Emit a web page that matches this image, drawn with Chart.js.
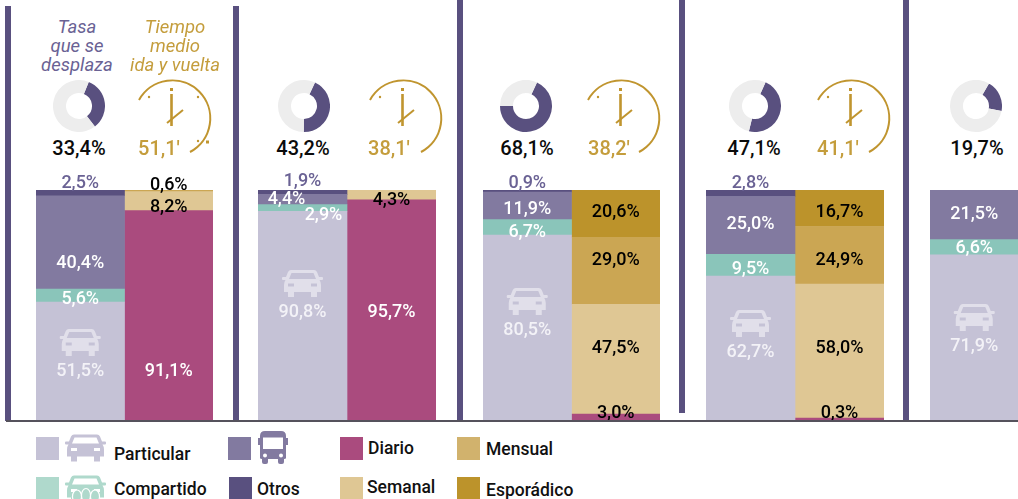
<!DOCTYPE html>
<html lang="es">
<head>
<meta charset="utf-8">
<title>Movilidad</title>
<script src="https://cdn.jsdelivr.net/npm/chart.js@4/dist/chart.umd.min.js"></script>
<style>
  html, body { margin: 0; background: #fff; }
  #page { position: relative; width: 1018px; height: 499px; overflow: hidden; font-family: Roboto, sans-serif; }
  #page > * { position: absolute; }
  .rule { background: #59507f; width: 6px; }
  .head { font-style: italic; font-weight: 400; font-size: 18.5px; line-height: 19px; text-align: center; width: 120px; top: 18px; }
  .big { font-size: 20px; font-weight: 500; top: 136px; width: 80px; text-align: center; line-height: 24px; }
  .swatch { width: 23px; height: 23px; }
  .leg { font-size: 17.5px; font-weight: 500; color: #111; line-height: 20px; white-space: nowrap; }
</style>
</head>
<body>
<div id="page"></div>
<script>
// ---------- Data ----------
const barNames = ['Modo', 'Frecuencia'];
const particular = [51.5, null, 90.8, null, 80.5, null, 62.7, null, 71.9, null];
const compartido = [5.6, null, 2.9, null, 6.7, null, 9.5, null, 6.6, null];
const autobus = [40.4, null, 4.4, null, 11.9, null, 25.0, null, 21.5, null];
const otros = [2.5, null, 1.9, null, 0.9, null, 2.8, null, null, null];
const diario = [null, 91.1, null, 95.7, null, 3.0, null, 0.3, null, null];
const semanal = [null, 8.2, null, 4.3, null, 47.5, null, 58.0, null, null];
const mensual = [null, 0.6, null, null, null, 29.0, null, 24.9, null, null];
const esporadico = [null, null, null, null, null, 20.6, null, 16.7, null, null];
const tasa = [33.4, 43.2, 68.1, 47.1, 19.7];
const tiempo = [51.1, 38.1, 38.2, 41.1, null];

// ---------- Layout ----------
const PAGE_TOP = 170;
const panelLeft = [36, 258, 483, 706, 930];
const panelWidth = [177, 178, 177, 178, 177];
const donutX = [79, 303.5, 526, 754.5, 975.5];
const donutTurn = [22, 25, 25, 24, 30];
const clockX = [171, 402, 620, 850];
const bigX = [79, 303, 527, 754, 977];
const timeX = [159, 389, 609, 838];
const rules = [[5, 6, 415], [233, 6, 415], [457, 0, 421], [679, 0, 413], [903, 0, 421]];

// label centre heights, one per bar, same order as the series
const labelY = {
  particular: [370, 0, 311, 0, 329, 0, 351, 0, 345, 0],
  compartido: [298, 0, 214, 0, 231, 0, 268, 0, 247, 0],
  autobus: [262, 0, 198, 0, 208, 0, 223, 0, 213, 0],
  otros: [182, 0, 180, 0, 182, 0, 182, 0, 0, 0],
  diario: [0, 370, 0, 311, 0, 412, 0, 412, 0, 0],
  semanal: [0, 206, 0, 199, 0, 347, 0, 347, 0, 0],
  mensual: [0, 184, 0, 0, 0, 259, 0, 259, 0, 0],
  esporadico: [0, 0, 0, 0, 0, 211, 0, 211, 0, 0]
};
const labelShiftX = { autobus: { 2: -16 }, compartido: { 2: 21 } };

const seriesList = [
  { key: 'particular', values: particular, color: '#c5c2d6', text: '#f3f2f7' },
  { key: 'compartido', values: compartido, color: '#8ac5ba', text: '#ffffff' },
  { key: 'autobus', values: autobus, color: '#827aa0', text: '#ffffff' },
  { key: 'otros', values: otros, color: '#59507f', text: '#6a6294' },
  { key: 'diario', values: diario, color: '#aa4b7e', text: '#ffffff', minBar: 3 },
  { key: 'semanal', values: semanal, color: '#dfc794', text: '#000000' },
  { key: 'mensual', values: mensual, color: '#cba653', text: '#000000' },
  { key: 'esporadico', values: esporadico, color: '#bc932b', text: '#000000' }
];
// a few labels do not follow their series colour
const blackLabels = { diario: [5, 7] };

// ---------- Icons ----------
const CAR_PATH = 'M9 0H32Q34 0 35 2L37 7H40Q41 7 41 8V9Q41 10 40 10H37.5Q39 12 39 15V22H35V27H29V22H12V27H6V22H2V15Q2 12 3.5 10H1Q0 10 0 9V8Q0 7 1 7H4L6 2Q7 0 9 0ZM9.5 3H31.5L34 9H7ZM6 13.5H12V16.5H6ZM29 13.5H35V16.5H29Z';
const BUS_PATH = 'M7 0H23Q28 0 28 5V7H30V14H28V27Q28 28 26 28V31Q26 33 24 33H22Q20 33 20 31V28H10V31Q10 33 8 33H6Q4 33 4 31V28Q2 28 2 27V14H0V7H2V5Q2 0 7 0ZM5 6.5V18H25V6.5ZM7 22.5A2 2 0 1 0 7 26.5A2 2 0 1 0 7 22.5ZM23 22.5A2 2 0 1 0 23 26.5A2 2 0 1 0 23 22.5Z';

const page = document.getElementById('page');

function place(tag, cls, style, html) {
  const el = document.createElement(tag);
  if (cls) el.className = cls;
  Object.assign(el.style, style);
  if (html) el.innerHTML = html;
  page.appendChild(el);
  return el;
}

function comma(v) {
  return v.toFixed(1).replace('.', ',');
}

// ---------- Bars ----------
const barLabels = {
  id: 'barLabels',
  afterDatasetsDraw(chart, args, opts) {
    const ctx = chart.ctx;
    ctx.save();
    ctx.font = '500 18px Roboto, sans-serif';
    ctx.textAlign = 'center';
    ctx.textBaseline = 'middle';
    chart.data.datasets.forEach((ds, d) => {
      const meta = chart.getDatasetMeta(d);
      ds.data.forEach((v, i) => {
        if (v === null) return;
        const barIndex = opts.panel * 2 + i;
        const y = labelY[ds.key][barIndex] - PAGE_TOP;
        const x = meta.data[i].x;
        if (ds.key === 'particular') {
          ctx.save();
          ctx.translate(x - 20.5, y - 41);
          ctx.fillStyle = '#e1dfea';
          ctx.fill(new Path2D(CAR_PATH), 'evenodd');
          ctx.restore();
        }
        const black = (blackLabels[ds.key] || []).includes(barIndex);
        ctx.fillStyle = black ? '#000000' : ds.textColor;
        const dx = (labelShiftX[ds.key] || {})[barIndex] || 0;
        // +1: Roboto digits sit a little above the middle baseline
        ctx.fillText(comma(v) + '%', x + dx, y + 1);
      });
    });
    ctx.restore();
  }
};

panelLeft.forEach((left, p) => {
  const canvas = place('canvas', '', { left: left + 'px', top: PAGE_TOP + 'px' });
  canvas.width = panelWidth[p];
  canvas.height = 421 - PAGE_TOP;
  new Chart(canvas, {
    type: 'bar',
    data: {
      labels: barNames,
      datasets: seriesList.map(s => ({
        key: s.key,
        textColor: s.text,
        data: s.values.slice(p * 2, p * 2 + 2),
        backgroundColor: s.color,
        borderWidth: 0,
        minBarLength: s.minBar || 0,
        categoryPercentage: 1,
        barPercentage: 1
      }))
    },
    plugins: [barLabels],
    options: {
      responsive: false,
      animation: false,
      layout: { padding: { top: 190 - PAGE_TOP } },
      plugins: { legend: { display: false }, tooltip: { enabled: false }, barLabels: { panel: p } },
      scales: {
        x: { stacked: true, display: false },
        y: { stacked: true, display: false, min: 0, max: 100 }
      }
    }
  });
});

// ---------- Donuts ----------
tasa.forEach((v, p) => {
  const canvas = place('canvas', '', { left: donutX[p] - 26 + 'px', top: '80px' });
  canvas.width = 52;
  canvas.height = 52;
  new Chart(canvas, {
    type: 'doughnut',
    data: {
      labels: ['Se desplaza', 'No se desplaza'],
      datasets: [{ data: [v, 100 - v], backgroundColor: ['#59507f', '#ededed'], borderWidth: 0 }]
    },
    options: {
      responsive: false,
      animation: false,
      cutout: '50%',
      rotation: donutTurn[p],
      plugins: { legend: { display: false }, tooltip: { enabled: false } }
    }
  });
  place('div', 'big', { left: bigX[p] - 40 + 'px', color: '#0b0b0b' }, comma(v) + '%');
});

// ---------- Clocks ----------
function clockSvg(extraDots) {
  const dots = extraDots ? '<circle cx="64" cy="16" r="1.2"/><circle cx="64" cy="60" r="1.2"/><rect x="72" y="59.5" width="3" height="3"/>' : '';
  return '<svg width="90" height="90" viewBox="0 0 90 90" fill="#c0952f" style="overflow:visible">' +
    '<path d="M5 19A38 38 0 1 1 56 71" fill="none" stroke="#c0952f" stroke-width="2"/>' +
    '<rect x="36" y="7" width="3" height="3"/><rect x="36.2" y="13" width="2.6" height="32"/>' +
    '<path d="M33 42L49 29" stroke="#c0952f" stroke-width="2"/>' +
    '<circle cx="15" cy="16" r="1.2"/>' + dots + '</svg>';
}

clockX.forEach((cx, p) => {
  place('div', '', { left: cx - 37.5 + 'px', top: '81px', width: '90px', height: '90px' }, clockSvg(p === 0));
  place('div', 'big', { left: timeX[p] - 40 + 'px', color: '#c49d3c' }, comma(tiempo[p]) + "'");
});

// ---------- Frame ----------
rules.forEach(r => {
  place('div', 'rule', { left: r[0] + 'px', top: r[1] + 'px', height: r[2] + 'px' });
});
place('div', '', { left: '6px', top: '420px', width: '1012px', height: '2px', background: '#55525c' });

// ---------- Column titles ----------
place('div', 'head', { left: '17px', color: '#6a6294' }, 'Tasa<br>que se<br>desplaza');
place('div', 'head', { left: '115px', color: '#c49d3c' }, 'Tiempo<br>medio<br>ida y vuelta');

// ---------- Legend ----------
function icon(path, w, h, vw, vh, x, y, color, extra) {
  place('div', '', { left: x + 'px', top: y + 'px', width: w + 'px', height: h + 'px' },
    `<svg width="${w}" height="${h}" viewBox="0 0 ${vw} ${vh}"><path d="${path}" fill="${color}" fill-rule="evenodd"/>${extra || ''}</svg>`);
}

[[36, 437, '#c5c2d6'], [36, 477, '#afd9cc'], [228, 437, '#827aa0'], [229, 477, '#59507f'],
 [340, 437, '#aa4b7e'], [340, 477, '#dfc794'], [457, 437, '#d1b26d'], [457, 477, '#bc932b']].forEach(s => {
  place('div', 'swatch', { left: s[0] + 'px', top: s[1] + 'px', background: s[2] });
});
icon(CAR_PATH, 41, 28, 41, 27, 65, 434, '#c5c2d6');
icon(CAR_PATH, 41, 28, 41, 27, 65, 475, '#afd9cc',
  '<g fill="#afd9cc" stroke="#fff" stroke-width="1.2"><ellipse cx="12" cy="21" rx="4.5" ry="6.5"/><ellipse cx="21" cy="20" rx="4.5" ry="7"/><ellipse cx="30" cy="21" rx="4.5" ry="6.5"/></g>');
icon(BUS_PATH, 30, 33, 30, 33, 258, 431, '#827aa0');

[['Particular', 114, 444], ['Compartido', 114, 479], ['Otros', 257, 479], ['Diario', 368, 438],
 ['Semanal', 367, 477], ['Mensual', 486, 439], ['Esporádico', 486, 480]].forEach(l => {
  place('div', 'leg', { left: l[1] + 'px', top: l[2] + 'px' }, l[0]);
});
</script>
</body>
</html>
